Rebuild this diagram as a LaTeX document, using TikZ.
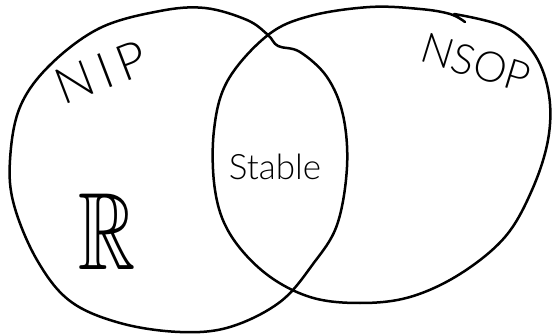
\documentclass[tikz,border=0pt]{standalone}
\usepackage{amssymb}
\usepackage{fontspec}
\newfontfamily\handfont{Lato Light}

\tikzset{
  blob/.style={line width=2.5pt, line join=round, line cap=round},
  tag/.style={inner sep=0pt, font=\handfont},
}

\begin{document}
\begin{tikzpicture}[x=1pt,y=-1pt]
\useasboundingbox (0,0) rectangle (552,334);
% left region
\draw[blob] plot[smooth cycle, tension=0.6] coordinates {
  (268,35) (278,46) (300,52) (327,77) (343,115) (347,167) (337,225) (313,264)
  (280,302) (230,327) (180,332) (120,323) (70,301) (37,260) (14,205) (10,160)
  (20,107) (50,65) (100,28) (160,11) (205,8) (247,20)};
% right region, open stroke overlapping at the top
\draw[blob] plot[smooth, tension=0.6] coordinates {
  (454,14) (505,27) (535,55) (549,95) (548,140) (532,190) (505,237) (460,274)
  (410,297) (360,303) (310,297) (265,273) (230,234) (215,190) (214,130)
  (228,80) (268,35) (310,16) (370,7) (420,9) (450,14) (465,22)};

\node[tag, font=\handfont\addfontfeature{LetterSpace=14}\fontsize{50}{50}\selectfont, rotate=21] (nip) at (101,72) {NIP};
\node[tag, font=\handfont\fontsize{42}{42}\selectfont, rotate=-17] (nsop) at (476,63) {NSOP};
\node[tag, font=\handfont\fontsize{35}{35}\selectfont] (stable) at (275,167) {Stable};
\node[tag, font=\fontsize{110}{110}\selectfont, transform shape, xscale=0.72] (reals) at (107,232) {$\mathbb{R}$};
\end{tikzpicture}
\end{document}
